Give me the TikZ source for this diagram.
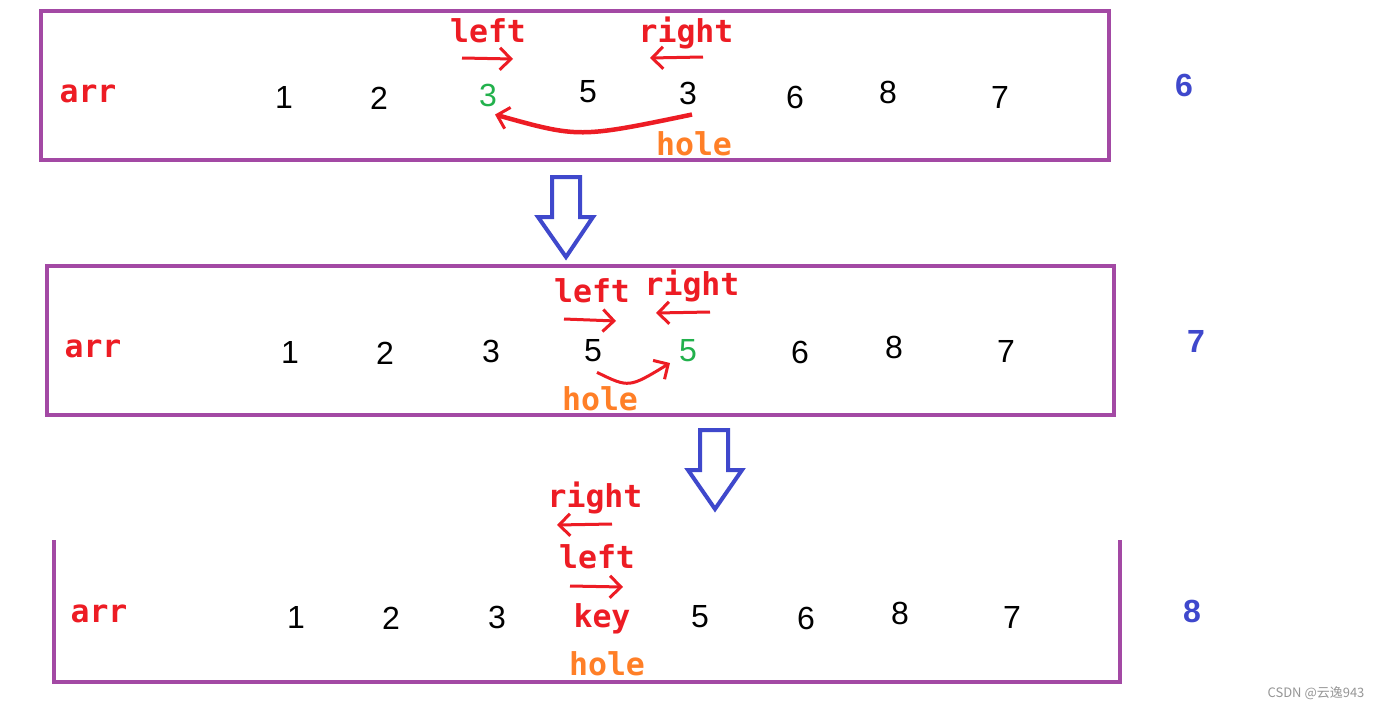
\documentclass[tikz,border=0pt]{standalone}
\usepackage{fontspec}
\setmainfont{Liberation Sans}
\newfontfamily\lblfont{DejaVu Sans Mono}
\newfontfamily\cjkfont{Noto Sans CJK SC}
\usetikzlibrary{arrows.meta}
\definecolor{redc}{RGB}{237,28,36}
\definecolor{orangec}{RGB}{255,127,39}
\definecolor{greenc}{RGB}{34,177,76}
\definecolor{purplec}{RGB}{163,73,164}
\definecolor{bluec}{RGB}{63,72,204}
\definecolor{grayc}{RGB}{150,150,150}
\tikzset{
  num/.style={font=\fontsize{32}{32}\selectfont, inner sep=0pt},
  lbl/.style={font=\lblfont\bfseries\fontsize{31.5}{31.5}\selectfont, text=redc, inner sep=0pt, anchor=base},
  holelbl/.style={lbl, text=orangec},
  stepnum/.style={font=\bfseries\fontsize{32}{32}\selectfont, text=bluec, inner sep=0pt},
  arraybox/.style={draw=purplec, line width=4pt},
  redarrow/.style={draw=redc, line width=3pt, -{Straight Barb[length=11pt,width=22pt,line width=3pt]}},
  bigarrow/.style={draw=bluec, line width=4pt, line join=miter, fill=white},
}
\begin{document}
\begin{tikzpicture}[x=1pt,y=-1pt]
\useasboundingbox (0,0) rectangle (1387,710);
\fill[white] (0,0) rectangle (1387,710);

% boxes
\draw[arraybox] (41,10.5) rectangle (1109,160);
\draw[arraybox] (47,266) rectangle (1114,415);
\draw[arraybox] (54,540) -- (54,682) -- (1120,682) -- (1120,540);

% big down arrows
\draw[bigarrow] (552,177) -- (580,177) -- (580,217) -- (593,217) -- (566,257) -- (538,217) -- (552,217) -- cycle;
\draw[bigarrow] (700,430) -- (728,430) -- (728,470) -- (742,470) -- (715,509) -- (688,470) -- (700,470) -- cycle;

% ---------- row 1 ----------
\node[lbl] (r1arr) at (88,102) {arr};
\node[num] (r1n1) at (284,97) {1};
\node[num] (r1n2) at (379,98) {2};
\node[num, text=greenc] (r1n3) at (488,95) {3};
\node[num] (r1n4) at (588,92) {5};
\node[num] (r1n5) at (688,93) {3};
\node[num] (r1n6) at (795,97) {6};
\node[num] (r1n7) at (888,92) {8};
\node[num] (r1n8) at (1000,97) {7};
\node[lbl] (r1left) at (488,42) {left};
\node[lbl] (r1right) at (686,42) {right};
\node[holelbl] (r1hole) at (694,155) {hole};
\coordinate (r1la) at (462,58);
\coordinate (r1lb) at (513,59);
\coordinate (r1ra) at (703,57);
\coordinate (r1rb) at (650,58);
\draw[redarrow] (r1la) -- (r1lb);
\draw[redarrow] (r1ra) -- (r1rb);
\draw[redarrow, line width=4.5pt] ([xshift=4pt,yshift=-10pt]r1n5.south) .. controls (579,138) .. ([xshift=7pt,yshift=-8pt]r1n3.south);
\node[stepnum] (s6) at (1184,85) {6};

% ---------- row 2 ----------
\node[lbl] (r2arr) at (93,357) {arr};
\node[num] (r2n1) at (290,352) {1};
\node[num] (r2n2) at (385,353) {2};
\node[num] (r2n3) at (491,351) {3};
\node[num] (r2n4) at (593,351) {5};
\node[num, text=greenc] (r2n5) at (688,351) {5};
\node[num] (r2n6) at (800,352) {6};
\node[num] (r2n7) at (894,347) {8};
\node[num] (r2n8) at (1006,351) {7};
\node[lbl] (r2left) at (592,302) {left};
\node[lbl] (r2right) at (692,295) {right};
\node[holelbl] (r2hole) at (600,410) {hole};
\coordinate (r2la) at (564,319);
\coordinate (r2lb) at (616,321);
\coordinate (r2ra) at (710,312);
\coordinate (r2rb) at (656,313);
\draw[redarrow] (r2la) -- (r2lb);
\draw[redarrow] (r2ra) -- (r2rb);
\draw[redarrow] ([xshift=4pt,yshift=-10pt]r2n4.south) .. controls (629,388) .. ([xshift=-18pt,yshift=-12pt]r2n5.center);
\node[stepnum] (s7) at (1196,341) {7};

% ---------- row 3 ----------
\node[lbl] (r3arr) at (99,622) {arr};
\node[num] (r3n1) at (296,617) {1};
\node[num] (r3n2) at (391,618) {2};
\node[num] (r3n3) at (497,617) {3};
\node[lbl] (r3key) at (602,627) {key};
\node[num] (r3n5) at (700,617) {5};
\node[num] (r3n6) at (806,618) {6};
\node[num] (r3n7) at (900,613) {8};
\node[num] (r3n8) at (1012,617) {7};
\node[lbl] (r3right) at (595,507) {right};
\node[lbl] (r3left) at (597,568) {left};
\node[holelbl] (r3hole) at (607,675) {hole};
\coordinate (r3ra) at (612,524);
\coordinate (r3rb) at (557,525);
\coordinate (r3la) at (570,586);
\coordinate (r3lb) at (623,587);
\draw[redarrow] (r3ra) -- (r3rb);
\draw[redarrow] (r3la) -- (r3lb);
\node[stepnum] (s8) at (1192,611) {8};

% watermark
\node[font=\cjkfont\fontsize{13}{13}\selectfont, text=grayc, inner sep=0pt] (wm) at (1316,693) {CSDN @云逸943};
\end{tikzpicture}
\end{document}
